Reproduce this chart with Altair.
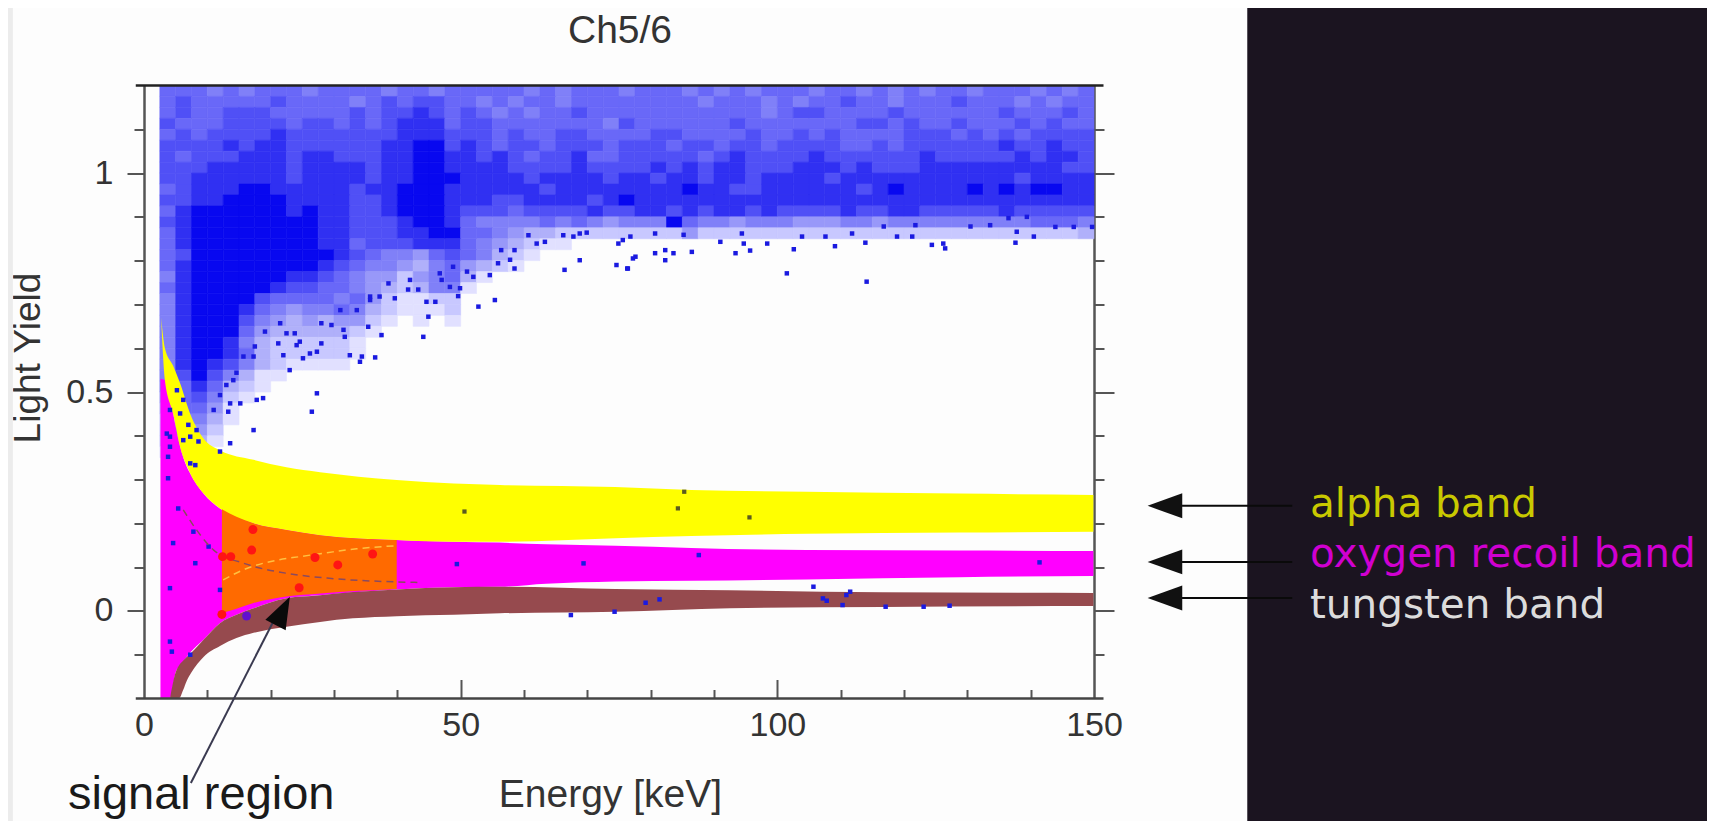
import altair as alt
import pandas as pd

# ---- (estimates) ---------------------------------------------------------
# The reference holds far too many blue events to read one by one. The dense
# cloud is therefore drawn as an estimated density grid (one digit per
# 2.5 keV x 0.025 cell, read by eye), and only the sparse outliers, which can
# be made out individually, are plotted as single points.
GRID_TOPS = [1.175, 1.15, 1.125, 1.1, 1.075, 1.05, 1.025, 1.0, .975, .95, .925, .9, .875,
             .85, .825, .8, .775, .75, .725, .7, .675, .65, .625, .6, .575, .55, .525,
             .5, .475, .45, .425, .4, .375, .35]
GRID_ROWS = [
"0666565666 5666656656 6666565666 5666565656 6656656565 6656665656",
"0676666676 6665676776 6565665666 6666656665 6566766566 6766656566",
"0676677766 6667677876 7656566766 6666666665 6776666766 6666766676",
"0766677776 7767678886 7766666665 7666666766 6666677676 6766676766",
"0676777787 7777778887 7767667766 6677666676 6767666677 7676767777",
"0777787887 7777788997 8767767776 7776776776 7777667677 7777877877",
"0767778887 8877788998 8787677866 7777767877 7787777778 7777787887",
"0777888887 8888788998 8887777877 7787878877 7888787778 8888888877",
"0778888887 8888788999 8888788887 8878878878 8887888888 8888878888",
"0678889988 8887889998 8888878888 8888988778 8888878988 8898989988",
"0778899998 8887789998 8877888878 9888888888 8888888888 8888888888",
"0689999998 9887789998 7776777787 7887878878 7777877887 7777877777",
"0789999999 9887778998 6555565654 5559655455 5444554555 5555556665",
"0689999999 9887778899 6654332222 2222422222 2222222222 2222222223",
"0689999999 9886777888 6543211",
"0679999999 9987655467 65321",
"0689999999 9876554356 4321",
"0589999998 8765442456 31",
"0689999987 7665432355 1",
"0589999766 6656421122",
"0589998654 5565321112",
"0589997543 4344210101",
"0589996433 3332100000",
"0589985322 2221",
"0589986322 2221",
"0589875321 111",
"0579753110",
"05686321",
"0467521",
"036641",
"025531",
"02542",
"02431",
"0122",
]
CELL_E = 2.5
CELL_Y = 0.025

BLUE_E = [14.6,17.8,18.8,27.3,26.5,23.0,34.1,34.4,36.5,32.5,28.0,26.2,27.3,25.1,22.0,21.2,24.1,24.6,
          31.5,31.7,35.4,37.5,44.1,44.9,44.6,46.0,49.6,52.8,55.4,48.3,49.9,41.7,43.3,42.0,38.6,39.6,
          37.2,35.7,54.6,52.0,55.9,58.5,58.5,57.8,56.4,60.7,63.3,62.0,66.2,68.8,69.9,67.8,66.4,68.8,
          74.6,76.4,77.2,75.6,74.9,46.7,47.0,48.8,51.0,14.1,13.0,12.0,13.6,15.2,11.0,13.3,17.3,15.7,
          17.5,19.1,21.5,22.5,23.8,28.0,29.6,31.0,33.6,35.7,
          76.3,77.6,80.7,82.3,83.6,82.3,86.5,85.2,91.0,93.4,94.7,95.7,94.4,101.5,114.1,98.4,102.6,
          103.9,109.1,107.6,111.8,113.9,118.9,121.3,124.4,126.2,126.5,137.6,140.5,137.8,116.8,121.8,
          143.9,146.8,149.7,130.5,133.6,136.5,139.4,80.7,76.8,
          12.0,7.3,8.1,6.2,7.3,8.6,7.0,8.3,5.7,6.2,5.2,4.1,3.6,4.1,3.8,4.1,13.6,17.3,
          3.8,5.4,7.8,10.2,4.6,8.1,12.0,4.1,4.1,4.4,7.3,49.4,
          67.4,74.3,79.2,81.4,105.7,107.2,107.8,110.3,110.9,111.5,117.1,123.1,127.2,69.4,87.6,141.4]
BLUE_Y = [.544,.482,.486,.497,.455,.550,.569,.581,.579,.584,.611,.588,.592,.577,.584,.611,.607,.615,
          .642,.626,.649,.630,.626,.672,.706,.706,.719,.695,.710,.740,.737,.734,.734,.756,.748,.714,
          .718,.718,.767,.763,.794,.824,.782,.802,.824,.858,.843,.839,.858,.862,.864,.855,.779,.801,
          .790,.782,.805,.847,.839,.771,.756,.786,.775,.527,.516,.493,.474,.474,.459,.455,.581,.581,
          .604,.638,.657,.634,.634,.657,.653,.687,.687,.710,
          .782,.809,.817,.824,.817,.801,.820,.859,.843,.817,.839,.823,.862,.771,.752,.839,.826,
          .855,.833,.855,.862,.841,.855,.855,.836,.839,.828,.841,.855,.866,.878,.881,
          .877,.877,.877,.878,.881,.897,.900,.862,.855,
          .364,.337,.333,.390,.398,.387,.425,.413,.451,.482,.504,.459,.405,.398,.352,.375,.383,.413,
          .303,.234,.181,.147,.155,.109,.048,.052,-.07,-.093,-.10,.107,
          -.0094,-.0018,.0187,.0264,.0553,.0286,.0233,.0134,.0363,.0439,.0096,.0096,.0119,.1086,.1276,.1109]

DARK_E = [50.6, 85.3, 84.3, 95.6]
DARK_Y = [.227, .2722, .2342, .2136]

RED_E = [17.2, 17.0, 12.4, 13.7, 27.0, 30.6, 36.1, 24.5, 12.3]
RED_Y = [.186, .139, .124, .124, .122, .105, .130, .053, -.008]
PURPLE_E = [16.2]
PURPLE_Y = [-.0116]

YELLOW_E = [2.7,3.3,4.6,5.7,7.3,9.4,12,17.3,22.5,27.8,39.9,48.9,56.2,74.4,86.4,104.6,128.7,149.9]
YELLOW_TOP = [.67,.60,.56,.52,.45,.394,.367,.345,.328,.317,.299,.291,.2875,.283,.276,.272,.268,.265]
YELLOW_LOW = [.67,.527,.451,.375,.314,.268,.234,.2,.185,.173,.162,.158,.158,.166,.171,.176,.179,.181]

MAGENTA_E = [2.6,3.3,4.1,4.6,5,5.7,6.74,7.3,9.4,12,14.6,17.3,22.5,27.8,39.9,48.9,56.2,63.5,74.4,86.4,104.6,128.7,149.9]
MAGENTA_TOP = [.53,.527,.48,.451,.42,.375,.33,.314,.268,.234,.215,.2,.185,.173,.162,.158,.156,.152,.149,.144,.139,.138,.137]
MAGENTA_LOW = [-.2,-.2,-.2,-.17,-.14,-.125,-.105,-.095,-.066,-.028,-.009,.006,.029,.036,.049,.054,.055,.062,.067,.069,.072,.077,.08]

ORANGE_E = [12.3,14.6,17.3,22.5,27.8,39.9]
ORANGE_TOP = [.232,.215,.2,.185,.173,.162]
ORANGE_LOW = [-.005,.005,.018,.033,.04,.05]

BROWN_E = [4.1,5,5.5,6.2,6.74,7.5,9.4,12,14.6,17.3,22.5,27.8,33,39.9,48.9,56.2,74.4,92.5,116.6,149.9]
BROWN_TOP = [-.2,-.14,-.125,-.113,-.105,-.095,-.066,-.028,-.009,.006,.029,.036,.043,.049,.054,.055,.05,.047,.0425,.041]
BROWN_LOW = [-.2,-.2,-.2,-.18,-.16,-.14,-.105,-.08,-.062,-.05,-.036,-.025,-.017,-.012,-.009,-.0055,-.002,.006,.009,.011]

CURVE_A_E = [12.5,15.7,21.0,24.6,28.9,33.6,39.9]
CURVE_A_Y = [.071,.094,.116,.124,.133,.142,.149]
CURVE_B_E = [6.2,8.3,11.0,15.7,22.5,28.9,38.3,43.6]
CURVE_B_Y = [.231,.185,.139,.109,.086,.075,.067,.065]

LABELS = ["alpha band", "oxygen recoil band", "tungsten band"]
LABEL_COLORS = ["#c9c900", "#d000d0", "#dcdcdc"]
LABEL_Y = [.241, .127, .0108]
ARROW_Y = [.240, .112, .0295]
LABEL_E = 184.1
ARROW_FROM_E = 181.3
ARROW_TO_E = 163.9
ARROW_HEAD_E = 161.2
SIGNAL_LINE_E = [7.4, 20.7]
SIGNAL_LINE_Y = [-.393, -.016]
SIGNAL_HEAD_E = [21.9]
SIGNAL_HEAD_Y = [.0]
SIGNAL_TEXT_E = [-12.0]
SIGNAL_TEXT_Y = [-.42]

X_MAJOR = [0, 50, 100, 150]
X_INNER_MAJOR = [50, 100]
X_MINOR = [10, 20, 30, 40, 60, 70, 80, 90, 110, 120, 130, 140]
Y_MAJOR = [0, .5, 1]
Y_MINOR = [-.1, .1, .2, .3, .4, .6, .7, .8, .9, 1.1]

W, H = 950, 613
FONT = "Liberation Sans"
AXC = "#555555"
XS = alt.Scale(domain=[0, 150], nice=False, zero=False)
YS = alt.Scale(domain=[-.2, 1.2], nice=False, zero=False)


def X(f="x", axis=None):
    return alt.X(f + ":Q", scale=XS, axis=axis, title=None)


def Y(f="y", axis=None):
    return alt.Y(f + ":Q", scale=YS, axis=axis, title=None)


def band(es, top, low, colour):
    d = pd.DataFrame({"x": es, "y": top, "y2": low})
    return alt.Chart(d).mark_area(color=colour, interpolate="monotone", opacity=1).encode(
        x=X(), y=Y(), y2="y2:Q")


def dots(es, ys, colour, size, shape="square"):
    d = pd.DataFrame({"x": es, "y": ys})
    return alt.Chart(d).mark_point(filled=True, color=colour, size=size, shape=shape, opacity=1).encode(x=X(), y=Y())


def axis_layer(xa=None, ya=None):
    d = pd.DataFrame({"x": [0], "y": [0]})
    return alt.Chart(d).mark_point(opacity=0).encode(x=X(axis=xa), y=Y(axis=ya))


common = dict(grid=False, title=None)
x_labels = alt.Axis(orient="bottom", values=X_MAJOR, ticks=False, domain=False, labelFont=FONT,
                    labelFontSize=34, labelColor="#333333", labelPadding=10, format="d", labelFlush=False,
                    labelOverlap=False, grid=False, title="Energy [keV]", titleFont=FONT,
                    titleFontSize=39, titleFontWeight="normal", titleColor="#333333",
                    titleX=466, titleY=96, titleBaseline="middle", titleAlign="center")
x_major = alt.Axis(orient="top", offset=-H, values=X_INNER_MAJOR, tickSize=19, tickWidth=2, tickColor=AXC,
                   labels=False, domain=False, **common)
x_minor = alt.Axis(orient="top", offset=-H, values=X_MINOR, tickSize=9, tickWidth=2, tickColor=AXC,
                   labels=False, domain=False, **common)
y_labels = alt.Axis(orient="left", values=Y_MAJOR, tickSize=17, tickWidth=2, tickColor=AXC, domain=True,
                    domainColor=AXC, domainWidth=2.5, labelFont=FONT, labelFontSize=34, labelColor="#333333",
                    labelPadding=14, labelOverlap=False, labelFlush=False,
                    labelExpr="datum.value == 0 ? '0' : datum.label",
                    format="~g", grid=False, title="Light Yield", titleFont=FONT, titleFontSize=37,
                    titleFontWeight="normal", titleColor="#333333", titleX=-116, titleY=272,
                    titleAngle=-90, titleBaseline="middle", titleAlign="center")
y_minor = alt.Axis(orient="left", values=Y_MINOR, tickSize=10, tickWidth=2, tickColor=AXC, labels=False,
                   domain=False, **common)
yr_major = alt.Axis(orient="right", values=Y_MAJOR, tickSize=20, tickWidth=2, tickColor=AXC, labels=False,
                    domain=True, domainColor=AXC, domainWidth=2.5, **common)
yr_minor = alt.Axis(orient="right", values=Y_MINOR, tickSize=10, tickWidth=2, tickColor=AXC, labels=False,
                    domain=False, **common)

# page furniture: dark slide panel and the pale strip at the left edge
panel = alt.Chart(pd.DataFrame({"x": [174.2], "x2": [260], "y": [1.45], "y2": [-.5]})).mark_rect(
    color="#1b1420").encode(x=X(), x2="x2:Q", y=Y(), y2="y2:Q")
strip = alt.Chart(pd.DataFrame({"x": [-21.5], "x2": [-20.7], "y": [1.45], "y2": [-.5]})).mark_rect(
    color="#ececec").encode(x=X(), x2="x2:Q", y=Y(), y2="y2:Q")

# density grid
rows = []
for top, raw in zip(GRID_TOPS, GRID_ROWS):
    row = raw.replace(" ", "")
    assert len(row) <= 60
    for i, ch in enumerate(row):
        if ch != "0":
            rows.append({"x": i * CELL_E, "x2": (i + 1) * CELL_E, "y": top, "y2": top + CELL_Y, "d": int(ch)})
DENSITY = alt.Scale(domain=[0, 3, 5, 7, 8, 9], range=["#ffffff", "#b0b0fa", "#8080f8", "#5050f6", "#3030f2", "#0808f0"])
grid = alt.Chart(pd.DataFrame(rows)).mark_rect(strokeWidth=0.6, opacity=1).encode(
    x=X(), x2="x2:Q", y=Y(), y2="y2:Q",
    color=alt.Color("d:Q", scale=DENSITY, legend=None),
    stroke=alt.Stroke("d:Q", scale=DENSITY, legend=None))

curve_a = alt.Chart(pd.DataFrame({"x": CURVE_A_E, "y": CURVE_A_Y})).mark_line(
    color="#ffc040", strokeWidth=1.5, strokeDash=[7, 5], interpolate="monotone").encode(x=X(), y=Y())
curve_b = alt.Chart(pd.DataFrame({"x": CURVE_B_E, "y": CURVE_B_Y})).mark_line(
    color="#8a4a60", strokeWidth=1.5, strokeDash=[7, 5], interpolate="monotone").encode(x=X(), y=Y())

frame_top = alt.Chart(pd.DataFrame({"x": [-1.3], "x2": [151.5], "y": [1.2]})).mark_rule(
    color="#222222", strokeWidth=2.5).encode(x=X(), x2="x2:Q", y=Y())
frame_bottom = alt.Chart(pd.DataFrame({"x": [-1.3], "x2": [151.5], "y": [-.2]})).mark_rule(
    color="#444444", strokeWidth=2.5).encode(x=X(), x2="x2:Q", y=Y())

# band labels and arrows
arrow_rows = pd.DataFrame({"x": [ARROW_FROM_E] * 3, "x2": [ARROW_TO_E] * 3, "y": ARROW_Y})
arrow_lines = alt.Chart(arrow_rows).mark_rule(color="#0a0a0a", strokeWidth=2).encode(x=X(), x2="x2:Q", y=Y())
HEAD = "M-1,0L1,-0.72L1,0.72Z"
arrow_heads = dots([ARROW_HEAD_E] * 3, ARROW_Y, "#111111", 1200, HEAD)
label_text = alt.Chart(pd.DataFrame({"x": [LABEL_E] * 3, "y": LABEL_Y, "t": LABELS, "c": LABEL_COLORS})).mark_text(
    align="left", baseline="middle", font="DejaVu Sans", fontSize=40.5).encode(
    x=X(), y=Y(), text="t:N", color=alt.Color("c:N", scale=None, legend=None))

signal_line = alt.Chart(pd.DataFrame({"x": SIGNAL_LINE_E, "y": SIGNAL_LINE_Y})).mark_line(
    color="#3a3a50", strokeWidth=2).encode(x=X(), y=Y())
signal_head = alt.Chart(pd.DataFrame({"x": SIGNAL_HEAD_E, "y": SIGNAL_HEAD_Y})).mark_point(
    filled=True, color="#0a0a0a", opacity=1, size=1000, shape=HEAD, angle=117).encode(x=X(), y=Y())
signal_text = alt.Chart(pd.DataFrame({"x": SIGNAL_TEXT_E, "y": SIGNAL_TEXT_Y, "t": ["signal region"]})).mark_text(
    align="left", baseline="middle", font=FONT, fontSize=47, color="#1a1a1a").encode(x=X(), y=Y(), text="t:N")

chart = alt.layer(
    panel, strip,
    axis_layer(xa=x_labels), axis_layer(xa=x_major), axis_layer(xa=x_minor),
    axis_layer(ya=y_labels), axis_layer(ya=y_minor), axis_layer(ya=yr_major), axis_layer(ya=yr_minor),
    grid,
    band(MAGENTA_E, MAGENTA_TOP, MAGENTA_LOW, "#ff00ff"),
    band(YELLOW_E, YELLOW_TOP, YELLOW_LOW, "#ffff00"),
    band(ORANGE_E, ORANGE_TOP, ORANGE_LOW, "#ff6a00"),
    band(BROWN_E, BROWN_TOP, BROWN_LOW, "#964a4e"),
    dots(BLUE_E, BLUE_Y, "#1a1ae0", 20),
    dots(DARK_E, DARK_Y, "#5a5a20", 18),
    curve_a, curve_b,
    dots(RED_E, RED_Y, "#ff1414", 80, "circle"),
    dots(PURPLE_E, PURPLE_Y, "#6010d0", 80, "circle"),
    frame_top, frame_bottom,
    arrow_lines, arrow_heads, label_text,
    signal_line, signal_head, signal_text,
).resolve_axis(x="independent", y="independent").resolve_scale(color="independent", stroke="independent").properties(
    width=W, height=H,
    background="#fdfdfd",
    autosize=alt.AutoSizeParams(type="none"),
    padding={"left": 136, "top": 77.5, "right": 613, "bottom": 122.5},
    title=alt.TitleParams("Ch5/6", font=FONT, fontSize=39, fontWeight="normal", color="#333333",
                          anchor="middle", offset=0, dy=75, dx=1),
).configure_view(stroke=None)

chart.save("out.html", embed_options={"renderer": "svg", "actions": False})
